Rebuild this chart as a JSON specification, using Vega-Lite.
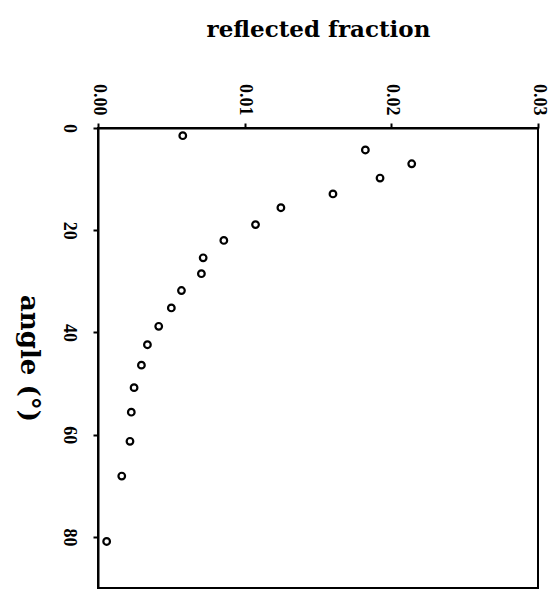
{
  "$schema": "https://vega.github.io/schema/vega-lite/v6.json",
  "autosize": {"type": "none"},
  "padding": {"left": 98, "top": 128, "right": 12, "bottom": 4},
  "width": 440,
  "height": 460,
  "background": "white",
  "config": {
    "view": {"stroke": "black", "strokeWidth": 2},
    "axis": {
      "labelFont": "Liberation Serif",
      "labelFontWeight": "bold",
      "labelFontSize": 18,
      "labelColor": "black",
      "titleFont": "DejaVu Serif",
      "titleFontWeight": "bold",
      "titleColor": "black",
      "domainColor": "black",
      "domainWidth": 2,
      "tickColor": "black",
      "tickWidth": 2,
      "tickSize": 5,
      "grid": false
    }
  },
  "data": {
    "values": [
      {"angle": 1.5, "fraction": 0.00578},
      {"angle": 4.3, "fraction": 0.01823},
      {"angle": 7.0, "fraction": 0.02139},
      {"angle": 9.8, "fraction": 0.01923},
      {"angle": 12.9, "fraction": 0.01602},
      {"angle": 15.6, "fraction": 0.01247},
      {"angle": 18.9, "fraction": 0.01074},
      {"angle": 22.0, "fraction": 0.00858},
      {"angle": 25.4, "fraction": 0.00717},
      {"angle": 28.5, "fraction": 0.00705},
      {"angle": 31.8, "fraction": 0.00569},
      {"angle": 35.2, "fraction": 0.00500},
      {"angle": 38.8, "fraction": 0.00414},
      {"angle": 42.4, "fraction": 0.00337},
      {"angle": 46.4, "fraction": 0.00296},
      {"angle": 50.8, "fraction": 0.00246},
      {"angle": 55.6, "fraction": 0.00227},
      {"angle": 61.3, "fraction": 0.00218},
      {"angle": 68.1, "fraction": 0.00162},
      {"angle": 80.9, "fraction": 0.00059}
    ]
  },
  "mark": {"type": "point", "shape": "circle", "filled": false, "stroke": "black", "strokeWidth": 2.2, "size": 44, "opacity": 1},
  "encoding": {
    "x": {
      "field": "fraction",
      "type": "quantitative",
      "scale": {"domain": [0, 0.03], "nice": false, "zero": false},
      "axis": {
        "orient": "top",
        "values": [0, 0.01, 0.02, 0.03],
        "format": ".2f",
        "labelAngle": 90,
        "labelAlign": "right",
        "labelBaseline": "middle",
        "labelPadding": 8,
        "title": "reflected fraction",
        "titleFontSize": 23,
        "titlePadding": 42
      }
    },
    "y": {
      "field": "angle",
      "type": "quantitative",
      "scale": {"domain": [0, 90], "nice": false, "zero": false, "reverse": true},
      "axis": {
        "orient": "left",
        "values": [0, 20, 40, 60, 80],
        "labelAngle": 90,
        "labelAlign": "center",
        "labelBaseline": "top",
        "labelPadding": 16,
        "title": "angle (°)",
        "titleFontSize": 26,
        "titleAngle": 90,
        "titleBaseline": "top",
        "titlePadding": 18
      }
    }
  }
}
